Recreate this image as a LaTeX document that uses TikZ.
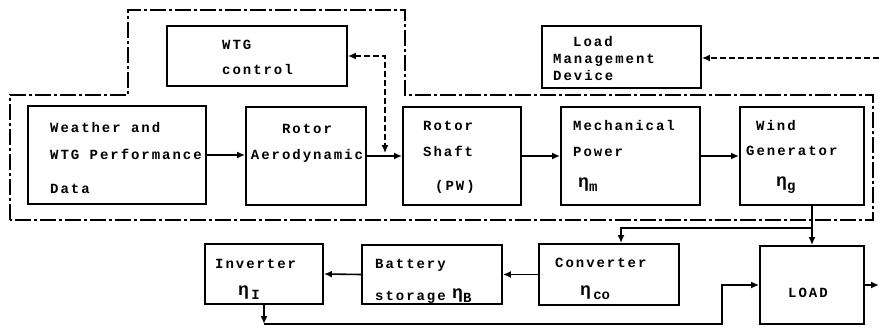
\documentclass[tikz,border=0pt]{standalone}
\usepackage{fontspec}
\newfontfamily\tw{Liberation Mono}[LetterSpace=14]
\newfontfamily\twg{Liberation Mono}
\usetikzlibrary{arrows.meta}
\tikzset{
  box/.style={draw, line width=1.9pt, inner sep=0pt},
  txt/.style={font=\tw\bfseries\fontsize{14}{14}\selectfont, inner sep=0pt, anchor=base west},
  etxt/.style={font=\twg\bfseries\fontsize{14}{14}\selectfont, inner sep=0pt, anchor=base west},
  tip/.style={-{Latex[length=8pt,width=7pt]}},
  arr/.style={line width=1.6pt, tip},
  dsh/.style={line width=1.4pt, dash pattern=on 6pt off 3pt},
  dd/.style={line width=1.4pt, dash pattern=on 16pt off 3pt on 3pt off 3pt}
}
\newcommand{\eeta}[1]{{\fontsize{18}{18}\selectfont η}\raisebox{-4pt}{#1}}
\begin{document}
\begin{tikzpicture}[x=1pt,y=-1pt]
\useasboundingbox (0,0) rectangle (879,329);
% outer dash-dot loop
\draw[dd] (10,220) -- (10,95) -- (128,95) -- (128,10) -- (405,10) -- (405,95) -- (873,95) -- (873,220) -- cycle;
% boxes
\node[box, minimum width=178pt, minimum height=98pt] (wea) at (117,155) {};
\node[box, minimum width=120pt, minimum height=98pt] (aero) at (306,156) {};
\node[box, minimum width=118pt, minimum height=98pt] (shaft) at (462,156) {};
\node[box, minimum width=139pt, minimum height=98pt] (mech) at (630.5,156) {};
\node[box, minimum width=124pt, minimum height=98pt] (wg) at (802,156) {};
\node[box, minimum width=180pt, minimum height=60pt] (ctrl) at (257,56) {};
\node[box, minimum width=159pt, minimum height=62pt] (lmd) at (621.5,57) {};
\node[box, minimum width=118pt, minimum height=60pt] (inv) at (264,274) {};
\node[box, minimum width=140pt, minimum height=59pt] (bat) at (432,274.5) {};
\node[box, minimum width=140pt, minimum height=61pt] (conv) at (609,274.5) {};
\node[box, minimum width=104pt, minimum height=78pt] (ld) at (812,285) {};
% texts
\node[txt] (t1) at (50,132) {Weather and};
\node[txt] (t2) at (50,159) {WTG Performance};
\node[txt] (t3) at (50,193) {Data};
\node[txt,anchor=base] (t4) at (307,133) {Rotor};
\node[txt,anchor=base] (t5) at (307,159) {Aerodynamic};
\node[txt] (t6) at (423,130) {Rotor};
\node[txt] (t7) at (423,156) {Shaft};
\node[txt] (t8) at (435,190) {(PW)};
\node[txt] (t9) at (573,131) {Mechanical};
\node[txt] (t10) at (573,157) {Power};
\node[etxt] (t11) at (578,187) {\eeta{m}};
\node[txt] (t12) at (756,130) {Wind};
\node[txt] (t13) at (746,155) {Generator};
\node[etxt] (t14) at (776,186) {\eeta{g}};
\node[txt] (t15) at (222,50) {WTG};
\node[txt] (t16) at (222,75) {control};
\node[txt] (t17) at (573,47) {Load};
\node[txt] (t18) at (553,64) {Management};
\node[txt] (t19) at (553,81) {Device};
\node[txt] (t20) at (215,268) {Inverter};
\node[etxt] (t21) at (238,295) {\eeta{\,I}};
\node[txt] (t22) at (375,268) {Battery};
\node[txt] (t23) at (375,300) {storage};
\node[etxt] (t24) at (452,298) {\eeta{B}};
\node[txt] (t25) at (555,267) {Converter};
\node[etxt] (t26) at (580,295) {\eeta{\,co}};
\node[txt] (t27) at (788,297) {LOAD};
% connectors
\draw[arr] (wea.east) -- (wea.east -| aero.west);
\draw[arr] (aero.east) -- (shaft.west);
\draw[arr] (shaft.east) -- (mech.west);
\draw[arr] (mech.east) -- (wg.west);
\coordinate (cj) at (385,153);
\draw[dsh, {Latex[length=8pt,width=7pt]}-{Latex[length=8pt,width=7pt]}] (ctrl.east) -| (cj);
\coordinate (lin) at (879,58);
\draw[dsh, tip] (lin) -- (lin -| lmd.east);
\coordinate (cb) at (621,228);
\draw[arr] (wg.south -| ld.north) -- (ld.north);
\draw[arr] (ld.north |- cb) -- (cb) -- (cb |- conv.north);
\draw[arr] (conv.west) -- (bat.east);
\draw[arr] (bat.west) -- (inv.east);
\coordinate (bot) at (722,324);
\draw[arr] (inv.south) -- (inv.south |- bot);
\draw[arr] (inv.south |- bot) -- (bot) |- (ld.west);
\coordinate (out) at (879,285);
\draw[arr] (ld.east) -- (out);
\end{tikzpicture}
\end{document}
